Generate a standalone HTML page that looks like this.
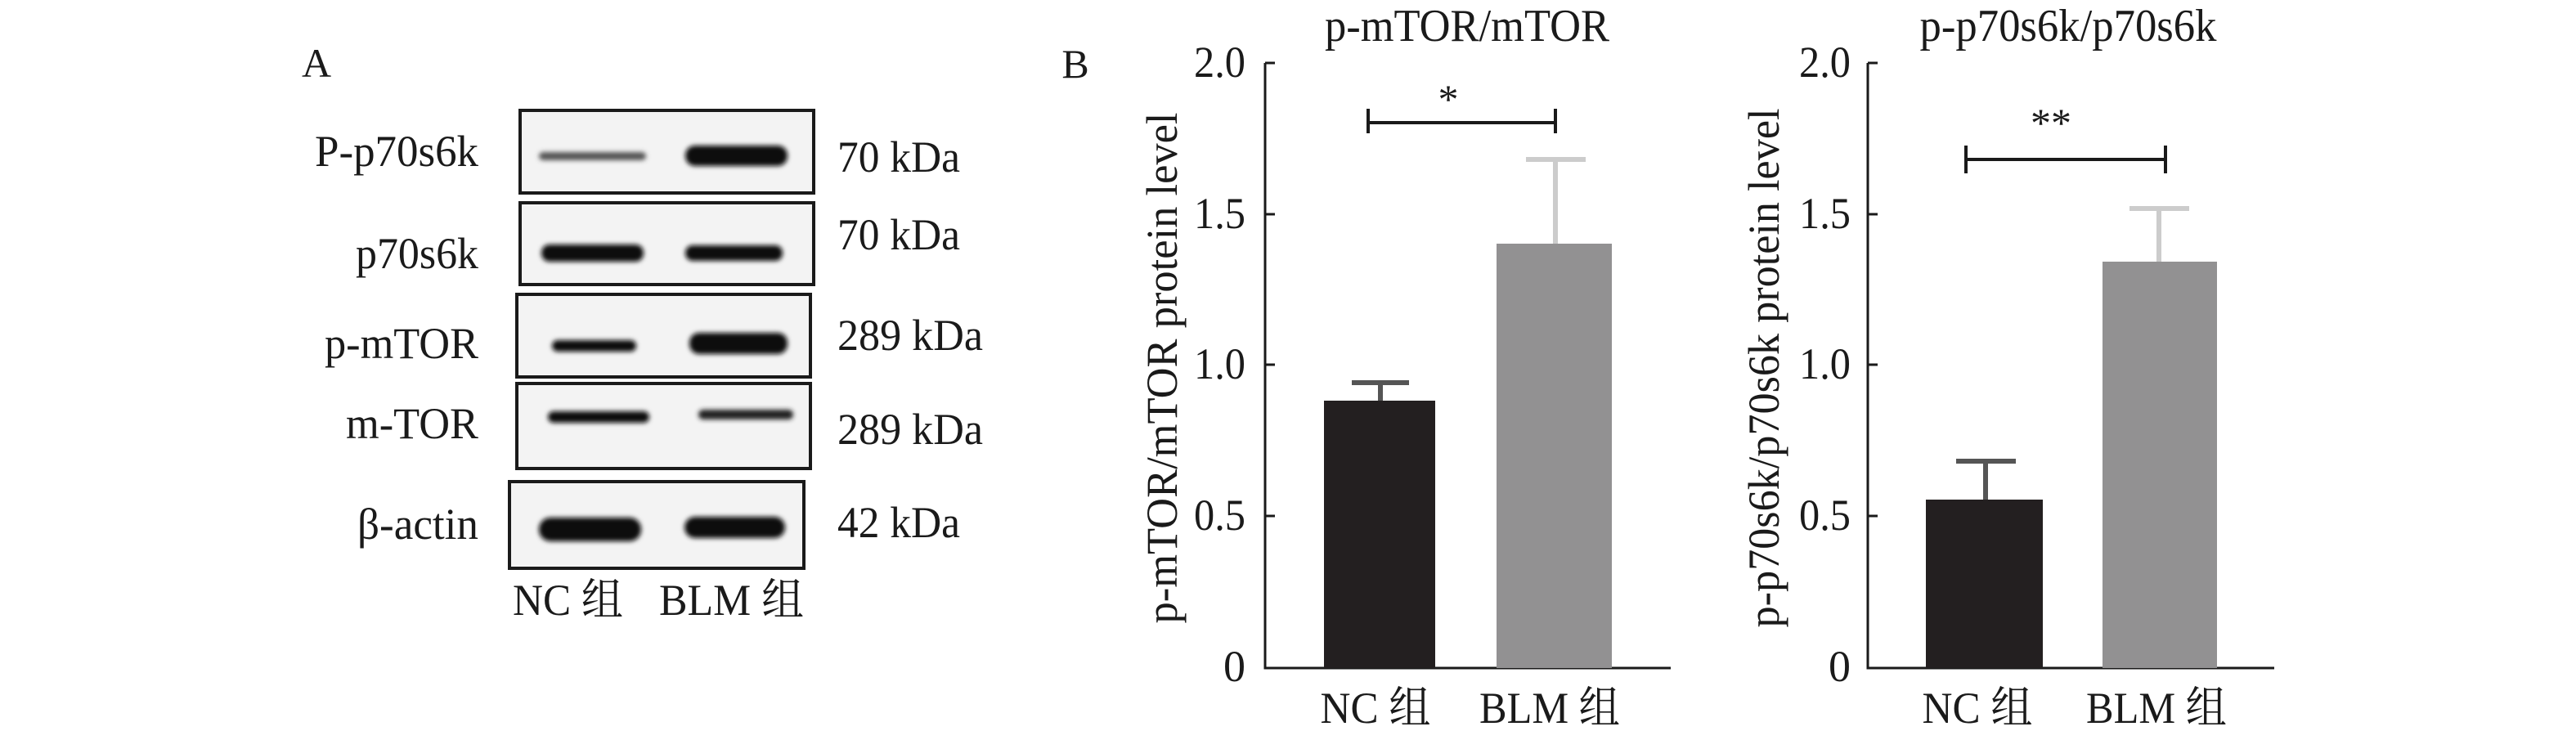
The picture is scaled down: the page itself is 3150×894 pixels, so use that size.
<!DOCTYPE html>
<html><head><meta charset="utf-8"><style>html,body{margin:0;padding:0;background:#fff}svg{display:block}</style></head>
<body>
<svg width="3150" height="894" viewBox="0 0 3150 894" xmlns="http://www.w3.org/2000/svg" font-family="'Liberation Serif','Noto Serif CJK SC',serif" fill="#1a1a1a">
<defs><filter id="b" x="-20%" y="-100%" width="140%" height="300%"><feGaussianBlur stdDeviation="3"/></filter></defs>
<!-- Panel A -->
<text x="387" y="94" font-size="50" text-anchor="middle">A</text>
<g stroke="#1a1a1a" stroke-width="4" fill="#f3f3f3">
<rect x="636" y="135" width="359" height="101"/>
<rect x="636" y="248" width="359" height="100"/>
<rect x="632" y="360" width="359" height="101"/>
<rect x="632" y="469" width="359" height="104"/>
<rect x="623" y="589" width="360" height="106"/>
</g>
<g fill="#111" filter="url(#b)">
<rect x="659" y="186" width="131" height="10" rx="5" fill="#555"/>
<rect x="838" y="178" width="125" height="25" rx="12"/>
<rect x="662" y="299" width="125" height="21" rx="10"/>
<rect x="838" y="300" width="119" height="19" rx="9"/>
<rect x="675" y="416" width="103" height="14" rx="7"/>
<rect x="843" y="407" width="120" height="26" rx="12"/>
<rect x="670" y="503" width="124" height="14" rx="7"/>
<rect x="854" y="501" width="116" height="12" rx="6" fill="#222"/>
<rect x="659" y="633" width="125" height="29" rx="14"/>
<rect x="837" y="632" width="123" height="26" rx="13"/>
</g>
<g font-size="54" text-anchor="end">
<text x="585" y="203" textLength="200" lengthAdjust="spacingAndGlyphs">P-p70s6k</text>
<text x="585" y="328" textLength="150" lengthAdjust="spacingAndGlyphs">p70s6k</text>
<text x="585" y="438" textLength="188" lengthAdjust="spacingAndGlyphs">p-mTOR</text>
<text x="585" y="536" textLength="162" lengthAdjust="spacingAndGlyphs">m-TOR</text>
<text x="585" y="659" textLength="148" lengthAdjust="spacingAndGlyphs">β-actin</text>
</g>
<g font-size="54">
<text x="1024" y="210" textLength="150" lengthAdjust="spacingAndGlyphs">70 kDa</text>
<text x="1024" y="305" textLength="150" lengthAdjust="spacingAndGlyphs">70 kDa</text>
<text x="1024" y="428" textLength="178" lengthAdjust="spacingAndGlyphs">289 kDa</text>
<text x="1024" y="543" textLength="178" lengthAdjust="spacingAndGlyphs">289 kDa</text>
<text x="1024" y="657" textLength="150" lengthAdjust="spacingAndGlyphs">42 kDa</text>
<text x="627" y="752" textLength="135" lengthAdjust="spacingAndGlyphs">NC 组</text>
<text x="806" y="752" textLength="177" lengthAdjust="spacingAndGlyphs">BLM 组</text>
</g>
<!-- Panel B -->
<text x="1315" y="95" font-size="50" text-anchor="middle">B</text>
<!-- chart 1 -->
<text x="1794" y="50" font-size="56" text-anchor="middle" textLength="348" lengthAdjust="spacingAndGlyphs">p-mTOR/mTOR</text>
<g stroke="#1a1a1a" stroke-width="3" fill="none">
<path d="M1547 77 V817 H2043"/>
<path d="M1547 77 h12 M1547 262 h12 M1547 446 h12 M1547 631 h12 M1900 817 v-12"/>
</g>
<g font-size="54" text-anchor="end">
<text x="1523" y="94" textLength="63" lengthAdjust="spacingAndGlyphs">2.0</text><text x="1523" y="279" textLength="63" lengthAdjust="spacingAndGlyphs">1.5</text><text x="1523" y="463" textLength="63" lengthAdjust="spacingAndGlyphs">1.0</text><text x="1523" y="648" textLength="63" lengthAdjust="spacingAndGlyphs">0.5</text><text x="1523" y="833">0</text>
</g>
<text transform="translate(1439,450) rotate(-90)" font-size="54" font-weight="normal" text-anchor="middle" textLength="625" lengthAdjust="spacingAndGlyphs">p-mTOR/mTOR protein level</text>
<rect x="1619" y="490" width="136" height="327" fill="#231f20"/>
<rect x="1830" y="298" width="141" height="519" fill="#929192"/>
<path d="M1688 490 V468 M1653 468 H1723" stroke="#555" stroke-width="6"/>
<path d="M1902 298 V195 M1866 195 H1939" stroke="#ccc" stroke-width="6"/>
<path d="M1673 133 V163 M1673 150 H1902 M1902 133 V163" stroke="#1a1a1a" stroke-width="4" fill="none"/>
<text x="1771" y="138" font-size="50" text-anchor="middle">*</text>
<g font-size="54"><text x="1682" y="884" text-anchor="middle" textLength="135" lengthAdjust="spacingAndGlyphs">NC 组</text><text x="1895" y="884" text-anchor="middle" textLength="172" lengthAdjust="spacingAndGlyphs">BLM 组</text></g>
<!-- chart 2 -->
<text x="2529" y="50" font-size="56" text-anchor="middle" textLength="363" lengthAdjust="spacingAndGlyphs">p-p70s6k/p70s6k</text>
<g stroke="#1a1a1a" stroke-width="3" fill="none">
<path d="M2284 77 V817 H2781"/>
<path d="M2284 77 h12 M2284 262 h12 M2284 446 h12 M2284 631 h12 M2636 817 v-12"/>
</g>
<g font-size="54" text-anchor="end">
<text x="2263" y="94" textLength="63" lengthAdjust="spacingAndGlyphs">2.0</text><text x="2263" y="279" textLength="63" lengthAdjust="spacingAndGlyphs">1.5</text><text x="2263" y="463" textLength="63" lengthAdjust="spacingAndGlyphs">1.0</text><text x="2263" y="648" textLength="63" lengthAdjust="spacingAndGlyphs">0.5</text><text x="2263" y="833">0</text>
</g>
<text transform="translate(2175,450) rotate(-90)" font-size="54" font-weight="normal" text-anchor="middle" textLength="635" lengthAdjust="spacingAndGlyphs">p-p70s6k/p70s6k protein level</text>
<rect x="2355" y="611" width="143" height="206" fill="#231f20"/>
<rect x="2571" y="320" width="140" height="497" fill="#929192"/>
<path d="M2428 611 V564 M2392 564 H2465" stroke="#555" stroke-width="6"/>
<path d="M2640 320 V255 M2604 255 H2677" stroke="#ccc" stroke-width="6"/>
<path d="M2404 178 V212 M2404 195 H2648 M2648 178 V212" stroke="#1a1a1a" stroke-width="4" fill="none"/>
<text x="2508" y="167" font-size="50" text-anchor="middle">**</text>
<g font-size="54"><text x="2418" y="884" text-anchor="middle" textLength="135" lengthAdjust="spacingAndGlyphs">NC 组</text><text x="2637" y="884" text-anchor="middle" textLength="172" lengthAdjust="spacingAndGlyphs">BLM 组</text></g>
</svg>
</body></html>
